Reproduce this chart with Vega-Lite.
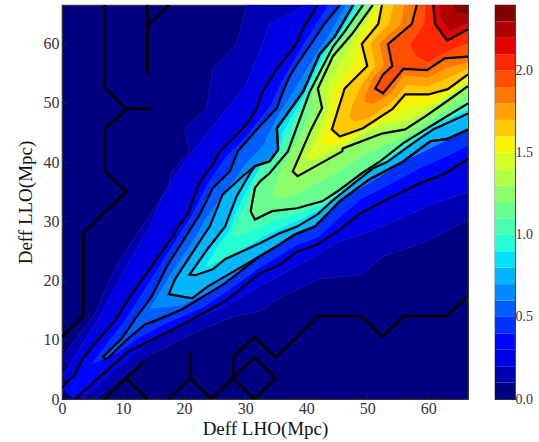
{"$schema":"https://vega.github.io/schema/vega-lite/v6.json","background":"white","padding":{"left":15,"top":4,"right":0,"bottom":0},"spacing":25,
"config":{"view":{"stroke":"#333333","strokeWidth":1.2},"font":"Liberation Serif","axis":{"grid":false,"domain":false,"tickColor":"#222222","tickSize":-4,"labelColor":"#333333","titleColor":"#111111","labelFont":"Liberation Serif","titleFont":"Liberation Serif","labelFontSize":16,"titleFontSize":19,"titleFontWeight":"normal","zindex":1}},
"datasets":{"regions":[
{"k":0.1,"x":30.3,"y":66.5},{"k":0.1,"x":28.6,"y":59.9},{"k":0.1,"x":24.7,"y":55.8},{"k":0.1,"x":23.7,"y":49.1},{"k":0.1,"x":20.1,"y":45.5},{"k":0.1,"x":20.9,"y":41.8},{"k":0.1,"x":18,"y":38.4},{"k":0.1,"x":17.3,"y":35.4},{"k":0.1,"x":13.1,"y":29.1},{"k":0.1,"x":8.6,"y":21.9},{"k":0.1,"x":5.4,"y":14.4},{"k":0.1,"x":0,"y":7},{"k":0.1,"x":5.5,"y":0},{"k":0.1,"x":14.4,"y":7.5},{"k":0.1,"x":20.4,"y":10.6},{"k":0.1,"x":28,"y":13.9},{"k":0.1,"x":32.4,"y":14.8},{"k":0.1,"x":36,"y":17.3},{"k":0.1,"x":42.3,"y":20.3},{"k":0.1,"x":49.1,"y":21},{"k":0.1,"x":52.6,"y":24.1},{"k":0.1,"x":59.7,"y":26.6},{"k":0.1,"x":66.5,"y":30.3},{"k":0.1,"x":66.5,"y":66.5},
{"k":0.2,"x":40.1,"y":66.5},{"k":0.2,"x":34,"y":63.3},{"k":0.2,"x":32.4,"y":58.7},{"k":0.2,"x":30,"y":52.8},{"k":0.2,"x":26.7,"y":48.6},{"k":0.2,"x":23.4,"y":44.3},{"k":0.2,"x":20.1,"y":40.1},{"k":0.2,"x":16.8,"y":35},{"k":0.2,"x":14.4,"y":29.1},{"k":0.2,"x":10.3,"y":21.9},{"k":0.2,"x":6.2,"y":13.9},{"k":0.2,"x":0,"y":3.8},{"k":0.2,"x":3.5,"y":0},{"k":0.2,"x":7.8,"y":4.3},{"k":0.2,"x":14.4,"y":9.7},{"k":0.2,"x":19.3,"y":12.8},{"k":0.2,"x":26.7,"y":15.6},{"k":0.2,"x":32.4,"y":19},{"k":0.2,"x":38.5,"y":22.4},{"k":0.2,"x":45.5,"y":26.6},{"k":0.2,"x":52.6,"y":29.1},{"k":0.2,"x":59.7,"y":32.5},{"k":0.2,"x":66.5,"y":35},{"k":0.2,"x":66.5,"y":66.5},
{"k":0.3,"s":"o","x":41.9,"y":66.5},{"k":0.3,"s":"o","x":39.5,"y":62.6},{"k":0.3,"s":"o","x":38.6,"y":60.4},{"k":0.3,"s":"o","x":37.3,"y":58.4},{"k":0.3,"s":"o","x":35.2,"y":55.8},{"k":0.3,"s":"o","x":32.9,"y":51.9},{"k":0.3,"s":"o","x":31.9,"y":49.1},{"k":0.3,"s":"o","x":30.3,"y":46.4},{"k":0.3,"s":"o","x":25.9,"y":41.8},{"k":0.3,"s":"o","x":24.7,"y":39.6},{"k":0.3,"s":"o","x":22.6,"y":36.7},{"k":0.3,"s":"o","x":21.8,"y":34.7},{"k":0.3,"s":"o","x":20.6,"y":31.2},{"k":0.3,"s":"o","x":19,"y":29.1},{"k":0.3,"s":"o","x":18.5,"y":28},{"k":0.3,"s":"o","x":14.7,"y":22.4},{"k":0.3,"s":"o","x":11.4,"y":17.7},{"k":0.3,"s":"o","x":8.6,"y":13.1},{"k":0.3,"s":"o","x":5.4,"y":9.4},{"k":0.3,"s":"o","x":3.4,"y":6.8},{"k":0.3,"s":"o","x":2.1,"y":4.1},{"k":0.3,"s":"o","x":0,"y":1.9},
{"k":0.3,"s":"p","x":2.1,"y":0},{"k":0.3,"s":"p","x":8.1,"y":5.5},{"k":0.3,"s":"p","x":10.8,"y":8},{"k":0.3,"s":"p","x":14.9,"y":10.1},{"k":0.3,"s":"p","x":19,"y":12.2},{"k":0.3,"s":"p","x":26.7,"y":16.5},{"k":0.3,"s":"p","x":32.4,"y":21.2},{"k":0.3,"s":"p","x":35.7,"y":22.7},{"k":0.3,"s":"p","x":38.5,"y":24.9},{"k":0.3,"s":"p","x":41.9,"y":26.1},{"k":0.3,"s":"p","x":45.5,"y":28.6},{"k":0.3,"s":"p","x":48.8,"y":31.3},{"k":0.3,"s":"p","x":52.6,"y":33.4},{"k":0.3,"s":"p","x":58.6,"y":36.4},{"k":0.3,"s":"p","x":62.4,"y":37.9},{"k":0.3,"s":"p","x":66.5,"y":40.5},{"k":0.3,"x":66.5,"y":66.5},
{"k":0.4,"x":43.7,"y":66.5},{"k":0.4,"x":40,"y":60.5},{"k":0.4,"x":36,"y":53.5},{"k":0.4,"x":34.2,"y":49.5},{"k":0.4,"x":30,"y":44},{"k":0.4,"x":27,"y":41},{"k":0.4,"x":24,"y":36.5},{"k":0.4,"x":21.3,"y":31},{"k":0.4,"x":16,"y":22.4},{"k":0.4,"x":13,"y":17.5},{"k":0.4,"x":10.2,"y":13},{"k":0.4,"x":7.5,"y":9.5},{"k":0.4,"x":5,"y":6},{"k":0.4,"x":9,"y":7.8},{"k":0.4,"x":12.3,"y":10.2},{"k":0.4,"x":17,"y":12.8},{"k":0.4,"x":23,"y":15.5},{"k":0.4,"x":26.7,"y":18},{"k":0.4,"x":32.4,"y":22.2},{"k":0.4,"x":38.4,"y":26},{"k":0.4,"x":42,"y":27.4},{"k":0.4,"x":45.5,"y":30.7},{"k":0.4,"x":48.8,"y":33.7},{"k":0.4,"x":52.6,"y":35.7},{"k":0.4,"x":58.6,"y":39},{"k":0.4,"x":62.4,"y":40.7},{"k":0.4,"x":66.5,"y":42.8},{"k":0.4,"x":66.5,"y":66.5},
{"k":0.5,"s":"t","x":45.5,"y":66.5},{"k":0.5,"s":"t","x":42.7,"y":62.9},{"k":0.5,"s":"t","x":41.1,"y":60.4},{"k":0.5,"s":"t","x":38.5,"y":56.5},{"k":0.5,"s":"t","x":37.3,"y":54.5},{"k":0.5,"s":"t","x":36.2,"y":51.9},{"k":0.5,"s":"t","x":35.2,"y":49.1},{"k":0.5,"s":"t","x":31.9,"y":45.5},{"k":0.5,"s":"t","x":28.8,"y":41.8},{"k":0.5,"s":"t","x":27.5,"y":38.4},{"k":0.5,"s":"t","x":24.7,"y":35.6},{"k":0.5,"s":"t","x":22.6,"y":31.2},{"k":0.5,"s":"t","x":21.3,"y":29.1},{"k":0.5,"s":"t","x":17.2,"y":22.4},{"k":0.5,"s":"t","x":14.7,"y":17.3},{"k":0.5,"s":"t","x":11.9,"y":13.4},{"k":0.5,"s":"t","x":9.8,"y":10.2},{"k":0.5,"s":"t","x":6.7,"y":7.1},{"k":0.5,"s":"t","x":7.3,"y":6.7},{"k":0.5,"s":"t","x":10.8,"y":10.2},{"k":0.5,"s":"t","x":13.6,"y":12.6},{"k":0.5,"s":"t","x":15.7,"y":13.4},{"k":0.5,"s":"t","x":19.6,"y":15.1},{"k":0.5,"s":"t","x":26.7,"y":19.5},{"k":0.5,"s":"t","x":32.4,"y":24.1},{"k":0.5,"s":"t","x":35.2,"y":25.8},{"k":0.5,"s":"t","x":38.2,"y":27.8},{"k":0.5,"s":"t","x":41.4,"y":29.1},{"k":0.5,"s":"t","x":43.9,"y":31.7},{"k":0.5,"s":"t","x":45.5,"y":33.4},{"k":0.5,"s":"t","x":50.4,"y":37.1},{"k":0.5,"s":"t","x":55.9,"y":40.1},{"k":0.5,"s":"t","x":60.3,"y":43.5},{"k":0.5,"s":"t","x":63.1,"y":43.9},{"k":0.5,"s":"t","x":66.5,"y":45.5},{"k":0.5,"x":66.5,"y":66.5},
{"k":0.6,"x":46.5,"y":66.5},{"k":0.6,"x":43.5,"y":61},{"k":0.6,"x":41.5,"y":58},{"k":0.6,"x":38,"y":52},{"k":0.6,"x":35.2,"y":47.5},{"k":0.6,"x":33,"y":42.8},{"k":0.6,"x":30,"y":39.5},{"k":0.6,"x":27,"y":35.2},{"k":0.6,"x":23.4,"y":30.2},{"k":0.6,"x":22.3,"y":28},{"k":0.6,"x":17.8,"y":21},{"k":0.6,"x":15.5,"y":17},{"k":0.6,"x":14.5,"y":15.3},{"k":0.6,"x":19.5,"y":15.8},{"k":0.6,"x":24,"y":18},{"k":0.6,"x":26.7,"y":20},{"k":0.6,"x":32.4,"y":24.1},{"k":0.6,"x":38.2,"y":27.8},{"k":0.6,"x":45.5,"y":33.4},{"k":0.6,"x":55.9,"y":40.1},{"k":0.6,"x":66.5,"y":45.5},{"k":0.6,"x":66.5,"y":66.5},
{"k":0.7,"s":"u","x":47.7,"y":66.5},{"k":0.7,"s":"u","x":44.7,"y":61.2},{"k":0.7,"s":"u","x":42.2,"y":58.2},{"k":0.7,"s":"u","x":39.5,"y":51.9},{"k":0.7,"s":"u","x":35.2,"y":45.7},{"k":0.7,"s":"u","x":35.4,"y":42.1},{"k":0.7,"s":"u","x":34,"y":40.1},{"k":0.7,"s":"u","x":31.6,"y":39.3},{"k":0.7,"s":"u","x":29.6,"y":37.6},{"k":0.7,"s":"u","x":26.3,"y":34.5},{"k":0.7,"s":"u","x":24.2,"y":29.1},{"k":0.7,"s":"u","x":23.4,"y":27.9},{"k":0.7,"s":"u","x":18.5,"y":20.2},{"k":0.7,"s":"u","x":17.5,"y":17.7},{"k":0.7,"s":"u","x":21.3,"y":17},{"k":0.7,"s":"u","x":23.9,"y":19},{"k":0.7,"s":"u","x":26.7,"y":20.7},{"k":0.7,"s":"u","x":32.4,"y":24.1},{"k":0.7,"s":"u","x":35.2,"y":25.8},{"k":0.7,"s":"u","x":38.2,"y":27.8},{"k":0.7,"s":"u","x":41.4,"y":29.1},{"k":0.7,"s":"u","x":43.9,"y":31.7},{"k":0.7,"s":"u","x":45.5,"y":33.4},{"k":0.7,"s":"u","x":50.4,"y":37.1},{"k":0.7,"s":"u","x":55.9,"y":40.1},{"k":0.7,"s":"u","x":60.3,"y":43.5},{"k":0.7,"s":"u","x":63.1,"y":43.9},{"k":0.7,"s":"u","x":66.5,"y":45.5},{"k":0.7,"x":66.5,"y":66.5},
{"k":0.8,"s":"v","x":47.7,"y":66.5},{"k":0.8,"s":"v","x":44.7,"y":61.2},{"k":0.8,"s":"v","x":42.2,"y":58.2},{"k":0.8,"s":"v","x":39.5,"y":51.9},{"k":0.8,"s":"v","x":35.2,"y":45.7},{"k":0.8,"s":"v","x":35.4,"y":42.1},{"k":0.8,"s":"v","x":34,"y":40.1},{"k":0.8,"s":"v","x":31.6,"y":39.3},{"k":0.8,"s":"v","x":30.8,"y":38.1},{"k":0.8,"s":"v","x":28.6,"y":34.2},{"k":0.8,"s":"v","x":26.7,"y":29.1},{"k":0.8,"s":"v","x":23.9,"y":25.4},{"k":0.8,"s":"v","x":20.9,"y":21},{"k":0.8,"s":"v","x":21.8,"y":20.9},{"k":0.8,"s":"v","x":24.7,"y":21.9},{"k":0.8,"s":"v","x":26.7,"y":23.6},{"k":0.8,"s":"v","x":32.4,"y":26.3},{"k":0.8,"s":"v","x":35.7,"y":28},{"k":0.8,"s":"v","x":38.5,"y":29.1},{"k":0.8,"s":"v","x":41.9,"y":31.2},{"k":0.8,"s":"v","x":44.2,"y":33.4},{"k":0.8,"s":"v","x":47.2,"y":35.9},{"k":0.8,"s":"v","x":50.9,"y":38.9},{"k":0.8,"s":"v","x":53.4,"y":40.1},{"k":0.8,"s":"v","x":57.5,"y":43.2},{"k":0.8,"s":"v","x":60.8,"y":45.5},{"k":0.8,"s":"v","x":66.5,"y":48.2},{"k":0.8,"x":66.5,"y":66.5},
{"k":0.9,"x":48.3,"y":66.5},{"k":0.9,"x":45.2,"y":61.3},{"k":0.9,"x":43,"y":58.6},{"k":0.9,"x":40,"y":51.9},{"k":0.9,"x":36.2,"y":45},{"k":0.9,"x":35.6,"y":41.8},{"k":0.9,"x":33,"y":39.8},{"k":0.9,"x":31,"y":36.7},{"k":0.9,"x":28.5,"y":31.5},{"k":0.9,"x":27.5,"y":28.5},{"k":0.9,"x":25.3,"y":25.5},{"k":0.9,"x":23.5,"y":22.3},{"k":0.9,"x":28,"y":24.3},{"k":0.9,"x":33,"y":27.5},{"k":0.9,"x":38.5,"y":30.1},{"k":0.9,"x":42.2,"y":32},{"k":0.9,"x":44.6,"y":34},{"k":0.9,"x":47.7,"y":36.7},{"k":0.9,"x":51.5,"y":39.3},{"k":0.9,"x":54.3,"y":41.2},{"k":0.9,"x":58.2,"y":44},{"k":0.9,"x":61,"y":46.3},{"k":0.9,"x":66.5,"y":48.8},{"k":0.9,"x":66.5,"y":66.5},
{"k":1.0,"x":48.8,"y":66.5},{"k":1.0,"x":45.7,"y":61.5},{"k":1.0,"x":43.8,"y":59.2},{"k":1.0,"x":40.3,"y":52},{"k":1.0,"x":36.6,"y":44},{"k":1.0,"x":35,"y":41},{"k":1.0,"x":32.5,"y":39.3},{"k":1.0,"x":31.2,"y":36},{"k":1.0,"x":30,"y":32.5},{"k":1.0,"x":28.5,"y":29.7},{"k":1.0,"x":28,"y":27.5},{"k":1.0,"x":31,"y":28.4},{"k":1.0,"x":35,"y":30.2},{"k":1.0,"x":38.5,"y":31.4},{"k":1.0,"x":42.5,"y":32.8},{"k":1.0,"x":45,"y":34.7},{"k":1.0,"x":48.5,"y":37.5},{"k":1.0,"x":52,"y":39.8},{"k":1.0,"x":55,"y":42.5},{"k":1.0,"x":59,"y":45.2},{"k":1.0,"x":66.5,"y":49.2},{"k":1.0,"x":66.5,"y":66.5},
{"k":1.1,"s":"w","x":49.3,"y":66.5},{"k":1.1,"s":"w","x":46,"y":61.6},{"k":1.1,"s":"w","x":44.4,"y":59.5},{"k":1.1,"s":"w","x":40.6,"y":51.9},{"k":1.1,"s":"w","x":37,"y":41.8},{"k":1.1,"s":"w","x":34,"y":38.1},{"k":1.1,"s":"w","x":32.4,"y":36.7},{"k":1.1,"s":"w","x":31.6,"y":35.6},{"k":1.1,"s":"w","x":30.9,"y":31.7},{"k":1.1,"s":"w","x":31.6,"y":30.3},{"k":1.1,"s":"w","x":34.4,"y":31.7},{"k":1.1,"s":"w","x":38.5,"y":32.2},{"k":1.1,"s":"w","x":42.7,"y":33.4},{"k":1.1,"s":"w","x":45.2,"y":35.1},{"k":1.1,"s":"w","x":49.1,"y":38.1},{"k":1.1,"s":"w","x":52.1,"y":40.1},{"k":1.1,"s":"w","x":55.9,"y":43.2},{"k":1.1,"s":"w","x":60.3,"y":46},{"k":1.1,"s":"w","x":66.5,"y":49.9},{"k":1.1,"x":66.5,"y":66.5},
{"k":1.2,"x":50.1,"y":66.5},{"k":1.2,"x":46.8,"y":61.6},{"k":1.2,"x":44.4,"y":58.7},{"k":1.2,"x":41.2,"y":52.1},{"k":1.2,"x":40.6,"y":48},{"k":1.2,"x":38.5,"y":43.5},{"k":1.2,"x":36,"y":39},{"k":1.2,"x":34.5,"y":34.5},{"k":1.2,"x":35.5,"y":33.7},{"k":1.2,"x":39,"y":34.9},{"k":1.2,"x":42.7,"y":37},{"k":1.2,"x":45.5,"y":38.5},{"k":1.2,"x":49,"y":41},{"k":1.2,"x":52,"y":42.5},{"k":1.2,"x":56,"y":44.3},{"k":1.2,"x":60,"y":46.8},{"k":1.2,"x":66.5,"y":51.3},{"k":1.2,"x":66.5,"y":66.5},
{"k":1.3,"s":"x","x":50.9,"y":66.5},{"k":1.3,"s":"x","x":47.5,"y":61.6},{"k":1.3,"s":"x","x":44.4,"y":57.9},{"k":1.3,"s":"x","x":41.9,"y":52.4},{"k":1.3,"s":"x","x":42.6,"y":49.1},{"k":1.3,"s":"x","x":40.8,"y":45.5},{"k":1.3,"s":"x","x":37.8,"y":38.4},{"k":1.3,"s":"x","x":38.6,"y":37.6},{"k":1.3,"s":"x","x":45.9,"y":41.8},{"k":1.3,"s":"x","x":46,"y":42.3},{"k":1.3,"s":"x","x":52.4,"y":44.8},{"k":1.3,"s":"x","x":56.2,"y":45.5},{"k":1.3,"s":"x","x":59.5,"y":47.7},{"k":1.3,"s":"x","x":63.1,"y":50.3},{"k":1.3,"s":"x","x":66.5,"y":52.8},{"k":1.3,"x":66.5,"y":66.5},
{"k":1.4,"x":51.4,"y":66.5},{"k":1.4,"x":48,"y":61},{"k":1.4,"x":46,"y":57.3},{"k":1.4,"x":43.3,"y":52.4},{"k":1.4,"x":43.4,"y":49},{"k":1.4,"x":42,"y":45.5},{"k":1.4,"x":40,"y":40.5},{"k":1.4,"x":41,"y":40.3},{"k":1.4,"x":46.5,"y":43},{"k":1.4,"x":50,"y":45.3},{"k":1.4,"x":53,"y":46.2},{"k":1.4,"x":57,"y":47.2},{"k":1.4,"x":60,"y":48.8},{"k":1.4,"x":63.1,"y":51},{"k":1.4,"x":66.5,"y":53.5},{"k":1.4,"x":66.5,"y":66.5},
{"k":1.5,"x":51.9,"y":66.5},{"k":1.5,"x":48.5,"y":60.5},{"k":1.5,"x":48,"y":56.8},{"k":1.5,"x":44.8,"y":52.4},{"k":1.5,"x":43.8,"y":47.5},{"k":1.5,"x":43,"y":45},{"k":1.5,"x":42.3,"y":43.2},{"k":1.5,"x":43.5,"y":42.7},{"k":1.5,"x":47.5,"y":44},{"k":1.5,"x":50.5,"y":46},{"k":1.5,"x":54,"y":47.6},{"k":1.5,"x":57,"y":49.3},{"k":1.5,"x":60,"y":49.8},{"k":1.5,"x":63.2,"y":51.5},{"k":1.5,"x":66.5,"y":54},{"k":1.5,"x":66.5,"y":66.5},
{"k":1.6,"s":"y","x":52.4,"y":66.5},{"k":1.6,"s":"y","x":51.8,"y":63.3},{"k":1.6,"s":"y","x":49.1,"y":59.9},{"k":1.6,"s":"y","x":50,"y":56.2},{"k":1.6,"s":"y","x":46.3,"y":52.4},{"k":1.6,"s":"y","x":44.2,"y":45.5},{"k":1.6,"s":"y","x":45.5,"y":44.3},{"k":1.6,"s":"y","x":49.3,"y":45.7},{"k":1.6,"s":"y","x":54.1,"y":48.9},{"k":1.6,"s":"y","x":56.2,"y":51.4},{"k":1.6,"s":"y","x":60,"y":51.4},{"k":1.6,"s":"y","x":63.2,"y":52.3},{"k":1.6,"s":"y","x":66.5,"y":54.8},{"k":1.6,"x":66.5,"y":66.5},
{"k":1.7,"x":54.3,"y":66.5},{"k":1.7,"x":53.5,"y":63.3},{"k":1.7,"x":50.5,"y":60},{"k":1.7,"x":51.3,"y":56.2},{"k":1.7,"x":49,"y":53},{"k":1.7,"x":47.5,"y":49.5},{"k":1.7,"x":47,"y":47.5},{"k":1.7,"x":48,"y":46.8},{"k":1.7,"x":50.5,"y":47.5},{"k":1.7,"x":54.5,"y":50.5},{"k":1.7,"x":56.5,"y":53},{"k":1.7,"x":60,"y":52.8},{"k":1.7,"x":63,"y":54},{"k":1.7,"x":66.5,"y":55.8},{"k":1.7,"x":66.5,"y":66.5},
{"k":1.8,"x":56,"y":66.5},{"k":1.8,"x":55.5,"y":63.3},{"k":1.8,"x":52,"y":60},{"k":1.8,"x":52.7,"y":56.2},{"k":1.8,"x":50.8,"y":54},{"k":1.8,"x":49.5,"y":51},{"k":1.8,"x":49.7,"y":50},{"k":1.8,"x":51,"y":49.8},{"k":1.8,"x":53.8,"y":51.5},{"k":1.8,"x":56,"y":54.6},{"k":1.8,"x":60,"y":54.2},{"k":1.8,"x":62.8,"y":55.8},{"k":1.8,"x":66.5,"y":56.8},{"k":1.8,"x":66.5,"y":66.5},
{"k":1.9,"s":"z","x":58.1,"y":66.5},{"k":1.9,"s":"z","x":57.3,"y":63.3},{"k":1.9,"s":"z","x":53.4,"y":59.9},{"k":1.9,"s":"z","x":54.1,"y":56.2},{"k":1.9,"s":"z","x":52.6,"y":54.8},{"k":1.9,"s":"z","x":51.3,"y":52.4},{"k":1.9,"s":"z","x":52.6,"y":51.6},{"k":1.9,"s":"z","x":55.9,"y":55.7},{"k":1.9,"s":"z","x":59.8,"y":55.5},{"k":1.9,"s":"z","x":62.7,"y":57.5},{"k":1.9,"s":"z","x":66.5,"y":57.8},{"k":1.9,"x":66.5,"y":66.5},
{"k":2.0,"x":59.5,"y":66.5},{"k":2.0,"x":59.3,"y":63.3},{"k":2.0,"x":57,"y":59.8},{"k":2.0,"x":58,"y":57.8},{"k":2.0,"x":60,"y":56.8},{"k":2.0,"x":63,"y":58.6},{"k":2.0,"x":66.5,"y":60},{"k":2.0,"x":66.5,"y":66.5},
{"k":2.1,"s":"h","x":60.8,"y":66.5},{"k":2.1,"s":"h","x":61.1,"y":63.3},{"k":2.1,"s":"h","x":63.1,"y":60.5},{"k":2.1,"s":"h","x":66.5,"y":62.4},{"k":2.1,"x":66.5,"y":66.5},
{"k":2.2,"x":61.6,"y":66.5},{"k":2.2,"x":62,"y":64},{"k":2.2,"x":63.5,"y":62},{"k":2.2,"x":66.5,"y":63.4},{"k":2.2,"x":66.5,"y":66.5},
{"k":2.3,"x":64,"y":66.5},{"k":2.3,"x":64.5,"y":65.2},{"k":2.3,"x":66.5,"y":65},{"k":2.3,"x":66.5,"y":66.5}
],
"zero":[
{"s":"z1","x":0,"y":10.5},{"s":"z1","x":3.5,"y":14},{"s":"z1","x":3.5,"y":28},{"s":"z1","x":10.5,"y":35},{"s":"z1","x":7,"y":38.5},{"s":"z1","x":7,"y":45.5},{"s":"z1","x":10.5,"y":49},{"s":"z1","x":7,"y":52.5},{"s":"z1","x":7,"y":66.5},
{"s":"z2","x":10.5,"y":49},{"s":"z2","x":14.7,"y":49},
{"s":"z3","x":14,"y":66.5},{"s":"z3","x":14,"y":55},
{"s":"z4","x":14,"y":63},{"s":"z4","x":17.5,"y":66.5},
{"s":"z5","x":7,"y":0},{"s":"z5","x":10.5,"y":3.5},{"s":"z5","x":14,"y":0},
{"s":"z6","x":10.5,"y":3.5},{"s":"z6","x":13.5,"y":6.5},
{"s":"z7","x":17.5,"y":0},{"s":"z7","x":21,"y":3.5},{"s":"z7","x":24.5,"y":0},{"s":"z7","x":28,"y":3.5},{"s":"z7","x":31.5,"y":0},{"s":"z7","x":35,"y":3.5},{"s":"z7","x":31.5,"y":7},{"s":"z7","x":28,"y":3.5},
{"s":"z8","x":21,"y":3.5},{"s":"z8","x":21,"y":7.8},
{"s":"z9","x":28,"y":3.5},{"s":"z9","x":28,"y":7},{"s":"z9","x":31.5,"y":10.5},{"s":"z9","x":35,"y":7},{"s":"z9","x":42,"y":14},{"s":"z9","x":49,"y":14},{"s":"z9","x":52.5,"y":10.5},{"s":"z9","x":56,"y":14},{"s":"z9","x":63,"y":14},{"s":"z9","x":66.5,"y":17.5}
],
"bar":[{"k":0,"a":0,"b":0.1},{"k":0.1,"a":0.1,"b":0.2},{"k":0.2,"a":0.2,"b":0.3},{"k":0.3,"a":0.3,"b":0.4},{"k":0.4,"a":0.4,"b":0.5},{"k":0.5,"a":0.5,"b":0.6},{"k":0.6,"a":0.6,"b":0.7},{"k":0.7,"a":0.7,"b":0.8},{"k":0.8,"a":0.8,"b":0.9},{"k":0.9,"a":0.9,"b":1.0},{"k":1.0,"a":1.0,"b":1.1},{"k":1.1,"a":1.1,"b":1.2},{"k":1.2,"a":1.2,"b":1.3},{"k":1.3,"a":1.3,"b":1.4},{"k":1.4,"a":1.4,"b":1.5},{"k":1.5,"a":1.5,"b":1.6},{"k":1.6,"a":1.6,"b":1.7},{"k":1.7,"a":1.7,"b":1.8},{"k":1.8,"a":1.8,"b":1.9},{"k":1.9,"a":1.9,"b":2.0},{"k":2.0,"a":2.0,"b":2.1},{"k":2.1,"a":2.1,"b":2.2},{"k":2.2,"a":2.2,"b":2.3},{"k":2.3,"a":2.3,"b":2.4}]},
"hconcat":[
{"width":406,"height":394,"view":{"fill":"#000080"},
"layer":[
{"data":{"name":"regions"},"transform":[{"window":[{"op":"row_number","as":"i"}]}],
"mark":{"type":"line","filled":true,"clip":true,"stroke":"#ffffff","strokeOpacity":0.13,"strokeWidth":0.6},
"encoding":{
"x":{"field":"x","type":"quantitative","scale":{"domain":[0,66.5],"nice":false,"zero":false},"axis":{"values":[0,10,20,30,40,50,60],"title":"Deff LHO(Mpc)","labelPadding":5,"titlePadding":3,"labelFlush":false}},
"y":{"field":"y","type":"quantitative","scale":{"domain":[0,66.5],"nice":false,"zero":false},"axis":{"values":[0,10,20,30,40,50,60],"title":"Deff LLO(Mpc)","labelPadding":7,"titlePadding":8,"labelFlush":false}},
"color":{"field":"k","type":"ordinal","legend":null,"scale":{"domain":[0,0.1,0.2,0.3,0.4,0.5,0.6,0.7,0.8,0.9,1.0,1.1,1.2,1.3,1.4,1.5,1.6,1.7,1.8,1.9,2.0,2.1,2.2,2.3],"range":["#000080","#0000b2","#0000e4","#0005ff","#0032ff","#005eff","#008aff","#00b7ff","#00e3ff","#22ffd5","#46ffb1","#69ff8e","#8eff69","#b1ff46","#d5ff22","#f8f400","#ffca00","#ffa100","#ff7800","#ff4f00","#ff2600","#e40000","#b10000","#800000"]}},
"order":{"field":"i","type":"quantitative"}}},
{"data":{"name":"regions"},"transform":[{"window":[{"op":"row_number","as":"i"}]},{"filter":"datum.s"}],
"mark":{"type":"line","clip":true,"color":"#000000","strokeWidth":2.2,"strokeJoin":"miter"},
"encoding":{"x":{"field":"x","type":"quantitative"},"y":{"field":"y","type":"quantitative"},"detail":{"field":"s"},"order":{"field":"i","type":"quantitative"}}},
{"data":{"name":"zero"},"transform":[{"window":[{"op":"row_number","as":"i"}]}],
"mark":{"type":"line","clip":true,"color":"#000000","strokeWidth":2.6,"strokeJoin":"miter"},
"encoding":{"x":{"field":"x","type":"quantitative"},"y":{"field":"y","type":"quantitative"},"detail":{"field":"s"},"order":{"field":"i","type":"quantitative"}}}
]},
{"width":20,"height":394,"data":{"name":"bar"},"mark":{"type":"rect"},
"encoding":{
"y":{"field":"a","type":"quantitative","scale":{"domain":[0,2.4],"nice":false},"axis":{"orient":"right","values":[0,0.5,1,1.5,2],"format":".1f","title":null,"labelFontSize":14,"labelPadding":4,"labelFlush":false}},
"y2":{"field":"b"},
"color":{"field":"k","type":"ordinal","legend":null}}}
]}
